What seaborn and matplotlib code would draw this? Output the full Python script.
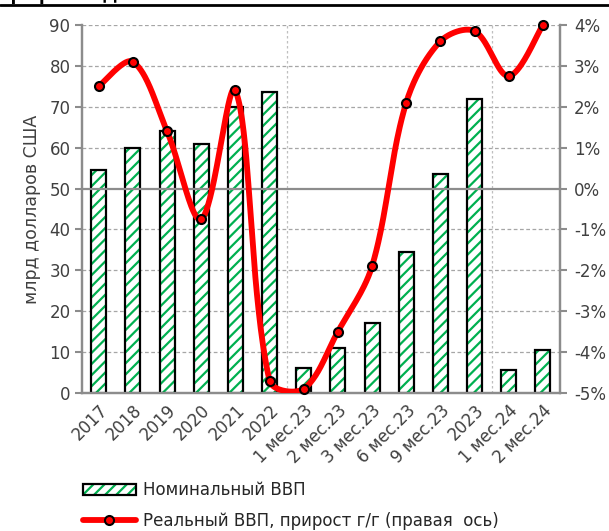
import numpy as np
import pandas as pd
import matplotlib
matplotlib.use("Agg")
import matplotlib.pyplot as plt
import seaborn as sns
from matplotlib.patches import Rectangle
from matplotlib.lines import Line2D

# data
categories = ["2017", "2018", "2019", "2020", "2021", "2022",
              "1 мес.23", "2 мес.23", "3 мес.23", "6 мес.23", "9 мес.23", "2023",
              "1 мес.24", "2 мес.24"]
nominal_gdp = [54.5, 60.0, 64.0, 61.0, 70.0, 73.5,
               6.0, 11.0, 17.0, 34.5, 53.5, 72.0,
               5.5, 10.5]
real_growth = [2.5, 3.1, 1.4, -0.75, 2.4, -4.7,
               -4.9, -3.5, -1.9, 2.1, 3.6, 3.85,
               2.75, 4.0]

GREEN = "#00B050"
RED = "#FF0000"
GRID = "#A6A6A6"
AXIS = "#8C8C8C"
TXT = "#404040"


def smooth_curve(y, xscale=34.2, yscale=40.8, n=40):
    # Excel-style smoothed line: Bezier segments whose control arms are
    # proportioned by segment lengths measured in screen space
    y = np.asarray(y, dtype=float)
    x = np.arange(len(y), dtype=float)
    pts = np.column_stack([x * xscale, y * yscale])
    ext = np.vstack([pts[0], pts, pts[-1]])
    out = []
    for i in range(len(pts) - 1):
        p0, p1, p2, p3 = ext[i], ext[i + 1], ext[i + 2], ext[i + 3]
        d01 = np.hypot(*(p1 - p0))
        d12 = np.hypot(*(p2 - p1))
        d23 = np.hypot(*(p3 - p2))
        f1 = d12 / (d01 + d12) / 3.0 if d01 > 0 else 1 / 6.0
        f2 = d12 / (d12 + d23) / 3.0 if d23 > 0 else 1 / 6.0
        c1 = p1 + (p2 - p0) * f1
        c2 = p2 - (p3 - p1) * f2
        t = np.linspace(0, 1, n, endpoint=(i == len(pts) - 2))[:, None]
        seg = ((1 - t) ** 3) * p1 + 3 * ((1 - t) ** 2) * t * c1 + 3 * (1 - t) * t ** 2 * c2 + t ** 3 * p2
        out.append(seg)
    out = np.vstack(out)
    return out[:, 0] / xscale, out[:, 1] / yscale


sns.set_style("white")
plt.rcParams["font.family"] = ["DejaVu Sans"]
plt.rcParams["hatch.linewidth"] = 1.6

df = pd.DataFrame({"cat": categories, "nominal": nominal_gdp, "real": real_growth})

fig = plt.figure(figsize=(6.09, 5.31), dpi=100)
ax = fig.add_axes([0.134, 0.260, 0.7855, 0.693])

sns.barplot(data=df, x="cat", y="nominal", ax=ax, color="white", width=0.44,
            saturation=1, zorder=3)
bars = list(ax.patches)
for p in bars:
    p.set_facecolor("white")
    p.set_edgecolor(GREEN)
    p.set_hatch("///")
    p.set_linewidth(0)
    ax.add_patch(Rectangle((p.get_x(), p.get_y()), p.get_width(), p.get_height(),
                           fill=False, edgecolor="black", linewidth=1.6, zorder=4))

ax.set_xlim(-0.5, len(categories) - 0.5)
ax.set_ylim(0, 90)
ax.set_yticks(np.arange(0, 91, 10))
ax.set_xlabel("")
ax.set_ylabel("млрд долларов США", fontsize=12.5, color=TXT, labelpad=6)

# grid lines
for v in range(10, 91, 10):
    if v != 50:
        ax.axhline(v, color=GRID, linestyle=(0, (3, 2)), linewidth=0.9, zorder=1)
for xv in [5.5, 11.5]:
    ax.axvline(xv, color="#BFBFBF", linestyle=(0, (2, 2)), linewidth=0.9, zorder=1)

ax.set_xticks(np.arange(len(categories)))
ax.set_xticklabels(categories, rotation=45, ha="right", rotation_mode="anchor",
                   fontsize=12, color=TXT)
ax.set_xticks(np.arange(-0.5, len(categories), 1.0), minor=True)
ax.tick_params(axis="x", which="major", length=0, pad=6)
ax.tick_params(axis="x", which="minor", length=5, width=1.5, color=AXIS, direction="out")
ax.tick_params(axis="y", length=5, width=1.5, color=AXIS, direction="out",
               labelsize=12, labelcolor=TXT, pad=3)

for s in ["left", "bottom", "right"]:
    ax.spines[s].set_color(AXIS)
    ax.spines[s].set_linewidth(1.6)
ax.spines["top"].set_visible(False)

# right axis: real growth
ax2 = ax.twinx()
ax2.set_ylim(-5, 4)
ax2.set_yticks(np.arange(-5, 5, 1))
ax2.set_yticklabels([f"{v}%" for v in range(-5, 5)])
ax2.tick_params(axis="y", length=5, width=1.5, color=AXIS, direction="out",
                labelsize=12, labelcolor=TXT, pad=5)
for s in ["left", "bottom", "right"]:
    ax2.spines[s].set_color(AXIS)
    ax2.spines[s].set_linewidth(1.6)
ax2.spines["top"].set_visible(False)
ax2.axhline(0, color=AXIS, linewidth=1.6, zorder=1)

sx, sy = smooth_curve(real_growth)
sns.lineplot(x=sx, y=sy, ax=ax2, color=RED, linewidth=4.2, sort=False, zorder=5)
ax2.plot(np.arange(len(categories)), real_growth, linestyle="none", marker="o",
         markersize=6.5, markerfacecolor=RED, markeredgecolor="black",
         markeredgewidth=1.5, zorder=6, clip_on=False)
ax2.set_xlim(-0.5, len(categories) - 0.5)

# legend under the chart
h_bar = Rectangle((0, 0), 1, 1, facecolor="white", edgecolor=GREEN, hatch="///", linewidth=0)
h_bar_outline = Rectangle((0, 0), 1, 1, fill=False, edgecolor="black", linewidth=1.6)
h_line = Line2D([0], [0], color=RED, linewidth=4.2, marker="o", markersize=6.5,
                markerfacecolor=RED, markeredgecolor="black", markeredgewidth=1.5)
leg = fig.legend([(h_bar, h_bar_outline), h_line],
                 ["Номинальный ВВП", "Реальный ВВП, прирост г/г (правая  ось)"],
                 loc="upper left", bbox_to_anchor=(0.125, 0.106), frameon=False,
                 fontsize=12, handlelength=3.2, handleheight=0.6, handletextpad=0.4,
                 labelspacing=0.75, borderaxespad=0)
for t in leg.get_texts():
    t.set_color("#262626")

# clipped heading and rule at the very top
fig.text(0.0, 1 + 0.5 / 531, "График 2. Динамика ВВП", fontsize=12, fontweight="bold",
         va="baseline", ha="left", color="black")
fig.add_artist(Line2D([0, 1], [1 - 4.5 / 531, 1 - 4.5 / 531], color="black", linewidth=2,
                      transform=fig.transFigure))

fig.savefig("out.png", dpi=100)
